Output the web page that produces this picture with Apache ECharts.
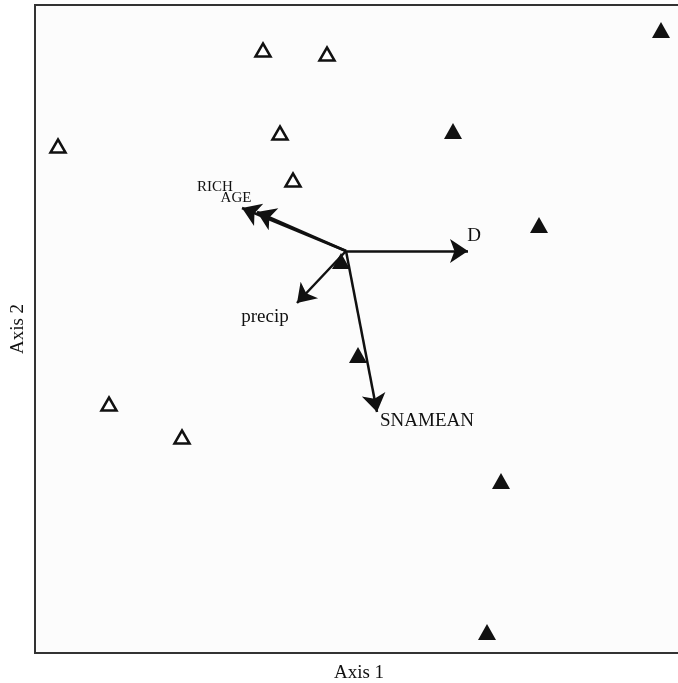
<!DOCTYPE html>
<html>
<head>
<meta charset="utf-8">
<script src="https://cdn.jsdelivr.net/npm/echarts@6/dist/echarts.min.js"></script>
<style>
  html, body { margin: 0; padding: 0; background: #ffffff; }
  #chart { width: 678px; height: 683px; }
</style>
</head>
<body>
<div id="chart"></div>
<script>
// Ordination scores (Axis 1, Axis 2) for the two site groups
const groupOpen = [
  [-0.83, 2.01], [-0.19, 1.97], [-0.66, 1.18], [-2.88, 1.05],
  [-0.53, 0.71], [-2.37, -1.53], [-1.64, -1.86]
];
const groupFilled = [
  [3.15, 2.21], [1.07, 1.20], [1.93, 0.26], [-0.05, -0.10],
  [0.12, -1.04], [1.55, -2.30], [1.41, -3.81]
];

// Environmental vectors (biplot arrows from the origin)
const vectorNames = ['RICH', 'AGE', 'D', 'precip', 'SNAMEAN'];
const vectorX = [-1.04, -0.89, 1.22, -0.49, 0.31];
const vectorY = [0.43, 0.39, 0.00, -0.52, -1.61];

// Axis extents
const xRange = [-3.11, 3.37];
const yRange = [-4.02, 2.46];

// Label placement around each arrow tip (pixels) and font size
const labelStyle = {
  RICH:    { dx: -27, dy: -21, size: 15 },
  AGE:     { dx: -21, dy: -14, size: 15 },
  D:       { dx: 6,   dy: -15, size: 19 },
  precip:  { dx: -32, dy: 14,  size: 19 },
  SNAMEAN: { dx: 50,  dy: 9,   size: 19 }
};

const serif = '"Liberation Serif", "DejaVu Serif", serif';
const ink = '#111111';

const arrowData = vectorNames.map((n, i) => ({
  name: n,
  coords: [[0, 0], [vectorX[i], vectorY[i]]]
}));

const tipData = vectorNames.map((n, i) => ({
  name: n,
  value: [vectorX[i], vectorY[i]],
  label: {
    show: true,
    position: 'inside',
    formatter: n,
    offset: [labelStyle[n].dx, labelStyle[n].dy],
    fontSize: labelStyle[n].size,
    fontFamily: serif,
    color: ink,
    opacity: 1
  }
}));

const chart = echarts.init(document.getElementById('chart'), null, { renderer: 'canvas' });

chart.setOption({
  animation: false,
  backgroundColor: '#ffffff',
  grid: {
    left: 35, top: 5, width: 648, height: 648,
    outerBoundsMode: 'none',
    containLabel: false,
    show: true,
    backgroundColor: '#fcfcfc',
    borderColor: '#333333',
    borderWidth: 2
  },
  xAxis: {
    type: 'value',
    min: xRange[0], max: xRange[1],
    name: 'Axis 1',
    nameLocation: 'middle',
    nameGap: 11,
    nameTextStyle: { fontFamily: serif, fontSize: 19, color: ink },
    axisLine: { show: false },
    axisTick: { show: false },
    axisLabel: { show: false },
    splitLine: { show: false }
  },
  yAxis: {
    type: 'value',
    min: yRange[0], max: yRange[1],
    name: 'Axis 2',
    nameLocation: 'middle',
    nameGap: 7,
    nameRotate: 90,
    nameTextStyle: { fontFamily: serif, fontSize: 19, color: ink },
    axisLine: { show: false },
    axisTick: { show: false },
    axisLabel: { show: false },
    splitLine: { show: false }
  },
  series: [
    {
      type: 'scatter',
      data: groupOpen,
      symbol: 'triangle',
      symbolSize: [15, 13],
      itemStyle: { color: '#ffffff', borderColor: ink, borderWidth: 2.5, opacity: 1 },
      z: 3
    },
    {
      type: 'scatter',
      data: groupFilled,
      symbol: 'triangle',
      symbolSize: [18, 16],
      itemStyle: { color: ink, opacity: 1 },
      z: 3
    },
    {
      type: 'lines',
      coordinateSystem: 'cartesian2d',
      data: arrowData,
      symbol: ['none', 'arrow'],
      symbolSize: [12, 18],
      lineStyle: { color: ink, width: 2.5, opacity: 1 },
      z: 4
    },
    {
      type: 'scatter',
      data: tipData,
      symbolSize: 1,
      itemStyle: { color: 'rgba(0,0,0,0)', opacity: 1 },
      z: 5
    }
  ]
});
</script>
</body>
</html>
